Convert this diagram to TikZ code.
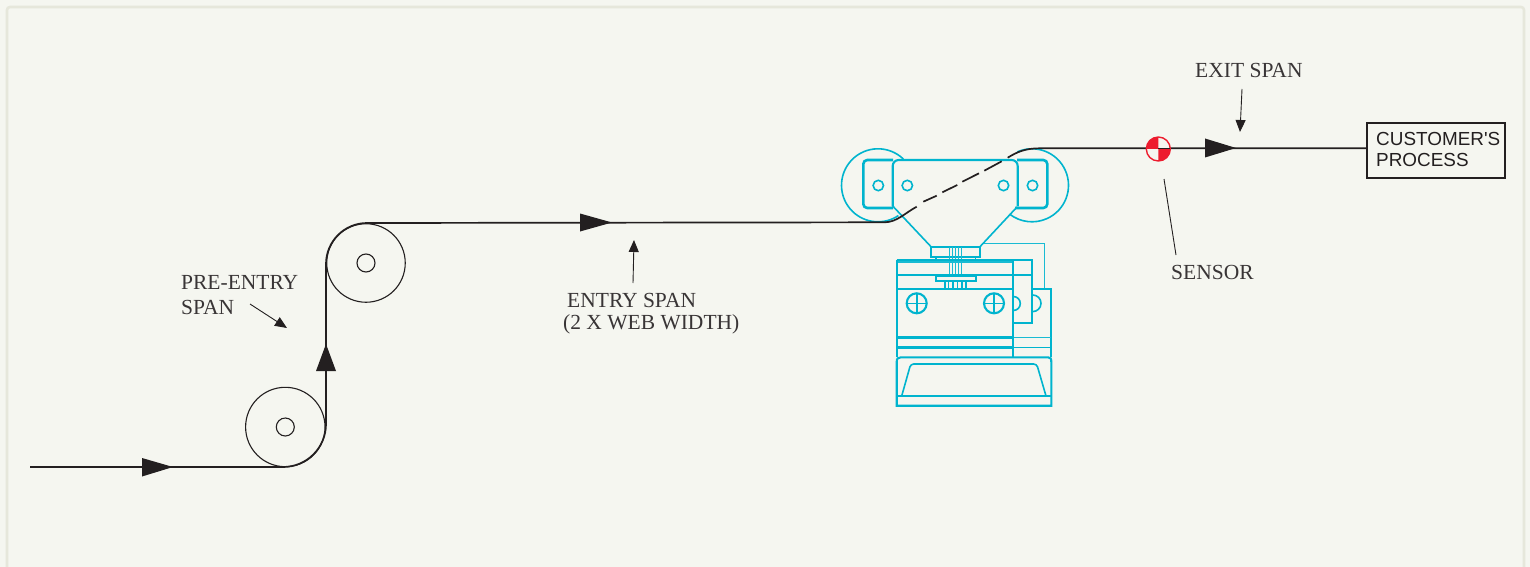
\documentclass[tikz,border=0pt]{standalone}
\usepackage{fontspec}
\setmainfont{Liberation Serif}
\newfontfamily\boxfont{Liberation Sans}
\usetikzlibrary{arrows.meta}
\definecolor{paper}{HTML}{F5F6F0}
\definecolor{frameline}{HTML}{E6E7DB}
\definecolor{ink}{HTML}{231F20}
\definecolor{mech}{HTML}{00B4CE}
\definecolor{sensred}{HTML}{ED1C2E}
\tikzset{
  web/.style={draw=ink,line width=1.7bp},
  roller/.style={circle,draw=ink,line width=1.1bp,minimum size=#1,inner sep=0pt},
  lbl/.style={anchor=base west,inner sep=0pt,text=ink!90,font=\fontsize{21.5bp}{23bp}\selectfont},
  leader/.style={draw=ink,line width=0.9bp},
  leadarrow/.style={leader,-{Triangle[length=12bp,width=10bp]}},
  flow/.style={fill=ink},
  mc/.style={draw=mech,line width=1.6bp},
  mt/.style={draw=mech,line width=2.6bp},
  ml/.style={draw=mech!90,line width=1.4bp},
}
\begin{document}
\begin{tikzpicture}[x=1bp,y=-1bp]
\useasboundingbox (0,0) rectangle (1530,567);
\fill[paper] (0,0) rectangle (1530,567);
\draw[frameline,line width=2.6bp,rounded corners=3bp] (7,575) -- (7,7) -- (1524,7) -- (1524,575);

% mechanism: rear parts
\draw[mc] (878,185.3) ++(-46:36.5) arc[start angle=-46,end angle=-304,radius=36.5];
\draw[mc] (1032,185.3) ++(-114:36.5) arc[start angle=-114,end angle=128,radius=36.5];
\draw[mt,rounded corners=4bp] (893,160) -- (863.3,160) -- (863.3,208) -- (893,208);
\draw[mt,rounded corners=4bp] (1017,160) -- (1047.3,160) -- (1047.3,208) -- (1015,208);
\draw[mc] (878.3,185.5) circle[radius=5.2];
\draw[mc] (907.3,185.5) circle[radius=5.2];
\draw[mc] (1003.5,185.5) circle[radius=5.2];
\draw[mc] (1032.5,185.5) circle[radius=5.2];
\draw[mc,line width=2.1bp,rounded corners=6bp] (892.7,206.5) -- (892.7,160) -- (1017.7,160) -- (1017.7,206.5);
\draw[mc] (892.7,206) -- (931,246.7);
\draw[mc] (1017,207) -- (980,246.7);
\draw[mc,line width=2.1bp] (931,246.7) rectangle (980,256.7);
\draw[mc] (935.7,256.7) rectangle (975.3,260);
\foreach \x in {949.3,952.7,955.3,958.7,961.7}{\draw[ml] (\x,246.7) -- (\x,276);}
\foreach \x in {945,948.3,952.7,957.3,961.7,966}{\draw[mc] (\x,280.7) -- (\x,289);}
\draw[mc] (935.7,276) rectangle (975.7,280.7);
\draw[ml] (984,243.3) -- (1044.3,243.3) -- (1044.3,288.7);
\draw[mc] (1013.3,260) -- (1032,260) -- (1032,322.7) -- (1013.3,322.7);
\draw[mc] (1032.7,288.7) -- (1050.7,288.7) -- (1050.7,357);
\draw[ml] (1013.3,337.3) -- (1050.7,337.3);
\draw[mc] (1013.3,347.3) -- (1050.7,347.3);
\draw[mc] (1032.7,295) arc[start angle=-90,end angle=90,radius=8.3];
\draw[mc] (1013.3,296.5) arc[start angle=-90,end angle=90,radius=7];
\draw[mc] (896.7,260) -- (1013.3,260);
\draw[ml] (896.7,262) -- (1013.3,262);
\draw[mc] (896.7,274.7) -- (1032,274.7);
\draw[mc] (896.7,260) -- (896.7,357);
\draw[mc,line width=2.1bp] (1013.3,260) -- (1013.3,357);
\draw[mc,line width=2.1bp] (896.7,289.3) -- (1013.3,289.3);
\draw[mt] (896.7,337.3) -- (1013.3,337.3);
\draw[mt] (896.7,347.3) -- (1013.3,347.3);
\draw[mc,line width=2.1bp] (916.7,303.3) circle[radius=10];
\draw[mc] (906.7,303.3) -- (926.7,303.3) (916.7,293.3) -- (916.7,313.3);
\draw[mc,line width=2.1bp] (994,303.3) circle[radius=10];
\draw[mc] (984,303.3) -- (1004,303.3) (994,293.3) -- (994,313.3);
\draw[mc,line width=2.1bp] (896.7,362) .. controls (896.7,358.5) and (898,357.3) .. (901,357.3) -- (1048,357.3) .. controls (1050.5,357.3) and (1051.3,358.5) .. (1051.3,362) -- (1051.3,405.7) -- (896.7,405.7) -- cycle;
\draw[mc] (896.7,396) -- (1051.3,396);
\draw[mc,rounded corners=3bp] (901.7,396) -- (910.7,364) -- (1036.7,364) -- (1046,396);

% rollers
\node[roller=79.4bp] (rolla) at (285.3,427) {};
\node[roller=18bp] (huba) at (285.3,427) {};
\node[roller=78.5bp] (rollb) at (366,263) {};
\node[roller=18bp] (hubb) at (366,263) {};

% box
\node[draw=ink,line width=1.7bp,minimum width=137.7bp,minimum height=54.7bp,inner sep=0pt] (proc) at (1435.9,150.7) {};
\node[anchor=base west,inner sep=0pt,text=ink,align=left,font=\boxfont\fontsize{18.9bp}{20.7bp}\selectfont] (proct) at (1376,166.7) {CUSTOMER'S\\PROCESS};

% web
\coordinate (start) at (30,467);
\coordinate (wa) at (283,467);
\coordinate (wc) at (326,264);
\coordinate (wd) at (367,223);
\coordinate (we) at (885,222.3);
\coordinate (wf) at (916.7,206.7);
\coordinate (wg) at (1007.7,157.7);
\coordinate (wh) at (1040,148.3);
\draw[web] (start) -- (wa) arc[start angle=90,end angle=0,radius=43] -- (wc) arc[start angle=180,end angle=270,radius=41];
\draw[web] (wd) -- (we) .. controls (897,222) and (905,213) .. (wf);
\draw[web] (923.3,201.7) -- (936.7,195.7) (942.3,192.3) -- (957.3,185) (962.3,181.7) -- (979,173.3) (984.3,170.7) -- (1001.7,161.3);
\draw[web] (wg) .. controls (1017,152) and (1025,148.3) .. (wh) -- (wh -| proc.west);

% flow arrowheads
\fill[flow] (173,467) -- (142,458) -- (142,476.5) -- cycle;
\fill[flow] (326,344) -- (316,371) -- (336,371) -- cycle;
\fill[flow] (612,222.5) -- (580,213.5) -- (580,231.5) -- cycle;
\fill[flow] (1236,148) -- (1205,138.5) -- (1205,157.5) -- cycle;

% sensor
\node[circle,draw=sensred,fill=paper,line width=1.4bp,minimum size=24bp,inner sep=0pt] (sens) at (1158.3,149) {};
\fill[sensred] (1158.3,149) -- (1146.3,149) arc[start angle=180,end angle=270,radius=12] -- cycle;
\fill[sensred] (1158.3,149) -- (1170.3,149) arc[start angle=0,end angle=90,radius=12] -- cycle;
\draw[ink,line width=1bp] (1158.3,149) -- (1170,149);

% labels and leaders
\node[lbl] (lpre) at (181,289) {PRE-ENTRY};
\node[lbl] (lspan) at (181,314) {SPAN};
\node[lbl] (lentry) at (567,307) {ENTRY SPAN};
\node[lbl] (lwidth) at (563,329) {(2 X WEB WIDTH)};
\node[lbl] (lexit) at (1195,78) {EXIT SPAN};
\node[lbl] (lsens) at (1171,279) {SENSOR};

\coordinate (pa) at (250,304); \coordinate (pb) at (287,328);
\coordinate (ea) at (633,283); \coordinate (eb) at (634,240);
\coordinate (xa) at (1242,89); \coordinate (xb) at (1240,132);
\coordinate (sa) at (1164,179); \coordinate (sb) at (1176,255);
\draw[leadarrow] (pa) -- (pb);
\draw[leadarrow] (ea) -- (eb);
\draw[leadarrow] (xa) -- (xb);
\draw[leader] (sa) -- (sb);
\end{tikzpicture}
\end{document}
